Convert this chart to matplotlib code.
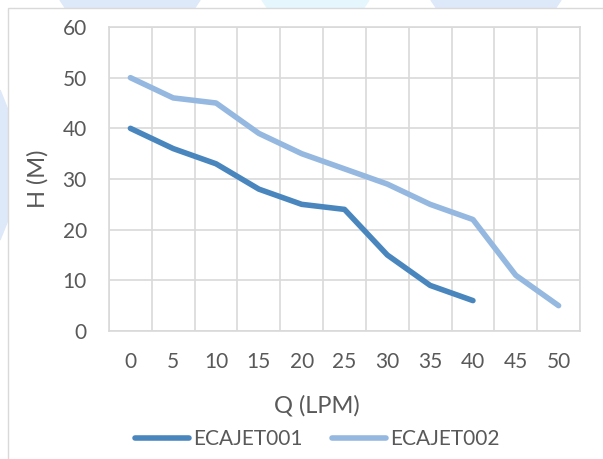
import matplotlib
matplotlib.use("Agg")
import matplotlib.pyplot as plt
from matplotlib.patches import Polygon, Rectangle
import numpy as np

# ---- data ---------------------------------------------------------------
flow_lpm = [0, 5, 10, 15, 20, 25, 30, 35, 40, 45, 50]
head_jet001 = [40, 36, 33, 28, 25, 24, 15, 9, 6]
head_jet002 = [50, 46, 45, 39, 35, 32, 29, 25, 22, 11, 5]
series_names = ["ECAJET001", "ECAJET002"]

DARK, LIGHT = "#4a86be", "#95b8e0"
GRID, TXT = "#d9d9d9", "#595959"

plt.rcParams["font.family"] = ["Lato", "DejaVu Sans"]

W, H = 603, 459
fig = plt.figure(figsize=(W / 100, H / 100), dpi=100, facecolor="white")

# faint background shapes behind the chart box
for xs, col in [((60, 200), "#dde8f8"), ((262, 369), "#e5f6fd"), ((431, 561), "#dde8f8")]:
    fig.patches.append(Polygon(
        [(xs[0] / W, 1), (xs[1] / W, 1), ((xs[1] - 6) / W, 1 - 9 / H),
         ((xs[0] + 6) / W, 1 - 9 / H)],
        closed=True, transform=fig.transFigure, color=col, zorder=0))
fig.patches.append(Polygon(
    [(0, 1 - 90 / H), (8 / W, 1 - 110 / H), (8 / W, 1 - 220 / H), (0, 1 - 240 / H)],
    closed=True, transform=fig.transFigure, color="#dde8f8", zorder=0))
fig.patches.append(Rectangle((8 / W, -0.01), 1.0, 1 - 8 / H + 0.01,
                             transform=fig.transFigure, facecolor="white",
                             edgecolor=GRID, lw=1.0, zorder=1))

ax = fig.add_axes([109 / W, (H - 331) / H, 471 / W, 304 / H])
ax.set_zorder(2)
ax.patch.set_alpha(0)

idx = np.arange(len(flow_lpm))
ax.plot(idx[:len(head_jet001)], head_jet001, color=DARK, lw=4.0,
        solid_capstyle="round", solid_joinstyle="round", label=series_names[0])
ax.plot(idx[:len(head_jet002)], head_jet002, color=LIGHT, lw=4.0,
        solid_capstyle="round", solid_joinstyle="round", label=series_names[1])

ax.set_xlim(-0.5, len(flow_lpm) - 0.5)
ax.set_ylim(0, 60)
ax.set_yticks(range(0, 61, 10))
ax.set_xticks(idx)
ax.set_xticklabels([str(v) for v in flow_lpm])
ax.set_xticks(np.arange(-0.5, len(flow_lpm)), minor=True)
ax.grid(True, axis="y", color=GRID, lw=1.2)
ax.grid(True, axis="x", which="minor", color=GRID, lw=1.2)
ax.set_axisbelow(True)
for sp in ax.spines.values():
    sp.set_color(GRID)
    sp.set_linewidth(1.2)
ax.tick_params(which="both", length=0, colors=TXT, labelsize=15)
ax.tick_params(axis="y", pad=16)
ax.tick_params(axis="x", pad=15)

ax.set_xlabel("Q (LPM)", color=TXT, fontsize=17)
ax.set_ylabel("H (M)", color=TXT, fontsize=17)
ax.xaxis.label.set_va("center")
ax.yaxis.label.set_va("center")
ax.xaxis.set_label_coords((317 - 109) / 471, (331 - 406) / 304)
ax.yaxis.set_label_coords((38 - 109) / 471, 0.5)

ax.legend(loc="center", bbox_to_anchor=((317 - 109) / 471, (331 - 439) / 304),
          ncol=2, frameon=False, fontsize=15, labelcolor=TXT,
          handlelength=2.6, handletextpad=0.2, columnspacing=1.4)

fig.savefig("out.png", dpi=100, facecolor="white")
